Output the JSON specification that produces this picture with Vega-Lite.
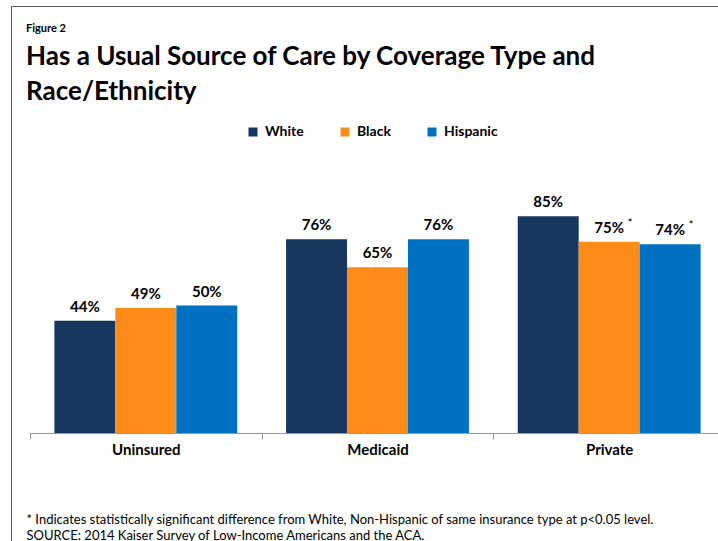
{
  "$schema": "https://vega.github.io/schema/vega-lite/v6.json",
  "autosize": {"type": "none"},
  "padding": {"left": 11, "top": 6, "right": -10, "bottom": -10},
  "width": 717,
  "height": 545,
  "background": "white",
  "title": {
    "text": "Figure 2",
    "subtitle": ["Has a Usual Source of Care by Coverage Type and", "Race/Ethnicity"],
    "anchor": "start",
    "frame": "group",
    "orient": "top",
    "font": "Lato",
    "fontSize": 11,
    "fontWeight": "bold",
    "color": "black",
    "subtitleFont": "Lato",
    "subtitleFontSize": 26,
    "subtitleFontWeight": "bold",
    "subtitleColor": "black",
    "subtitleLineHeight": 35,
    "subtitlePadding": 10,
    "dx": 15,
    "dy": 99,
    "offset": 0
  },
  "config": {"view": {"stroke": "#595959", "strokeWidth": 1}, "font": "Lato"},
  "data": {
    "values": [
      {"coverage": "Uninsured", "race": "White", "value": 44, "label": "44%", "sig": ""},
      {"coverage": "Uninsured", "race": "Black", "value": 49, "label": "49%", "sig": ""},
      {"coverage": "Uninsured", "race": "Hispanic", "value": 50, "label": "50%", "sig": ""},
      {"coverage": "Medicaid", "race": "White", "value": 76, "label": "76%", "sig": ""},
      {"coverage": "Medicaid", "race": "Black", "value": 65, "label": "65%", "sig": ""},
      {"coverage": "Medicaid", "race": "Hispanic", "value": 76, "label": "76%", "sig": ""},
      {"coverage": "Private", "race": "White", "value": 85, "label": "85%", "sig": ""},
      {"coverage": "Private", "race": "Black", "value": 75, "label": "75%", "sig": "*"},
      {"coverage": "Private", "race": "Hispanic", "value": 74, "label": "74%", "sig": "*"}
    ]
  },
  "encoding": {
    "x": {
      "field": "coverage",
      "type": "nominal",
      "sort": ["Uninsured", "Medicaid", "Private"],
      "scale": {"range": [19, 714], "paddingInner": 0, "paddingOuter": 0},
      "axis": {
        "title": ["* Indicates statistically significant difference from White, Non-Hispanic of same insurance type at p<0.05 level.", "SOURCE: 2014 Kaiser Survey of Low-Income Americans and the ACA."],
        "titleX": 15,
        "titleY": 90,
        "titleAlign": "left",
        "titleBaseline": "alphabetic",
        "titleFont": "Lato",
        "titleFontSize": 13,
        "titleFontWeight": "normal",
        "titleColor": "black",
        "titleLineHeight": 16,
        "offset": -118,
        "labelAngle": 0,
        "labelFont": "Lato",
        "labelFontSize": 15,
        "labelFontWeight": "bold",
        "labelColor": "black",
        "labelPadding": 3,
        "tickBand": "extent",
        "tickSize": 6,
        "tickColor": "#999999",
        "domainColor": "#999999",
        "grid": false
      }
    },
    "xOffset": {
      "field": "race",
      "type": "nominal",
      "sort": ["White", "Black", "Hispanic"],
      "scale": {"paddingInner": 0, "paddingOuter": 0.4}
    },
    "y": {
      "field": "value",
      "type": "quantitative",
      "scale": {"domain": [0, 100], "range": [427, 172]},
      "axis": null
    }
  },
  "layer": [
    {
      "mark": {"type": "bar"},
      "encoding": {
        "color": {
          "field": "race",
          "type": "nominal",
          "scale": {"domain": ["White", "Black", "Hispanic"], "range": ["#17375E", "#FF8C1A", "#0070C0"]},
          "legend": {
            "title": null,
            "orient": "none",
            "direction": "horizontal",
            "legendX": 235,
            "legendY": 119,
            "symbolType": "square",
            "symbolSize": 81,
            "symbolStrokeWidth": 0,
            "labelFont": "Lato",
            "labelFontSize": 14,
            "labelFontWeight": "bold",
            "labelColor": "black",
            "labelOffset": 5,
            "columnPadding": 34,
            "padding": 0
          }
        }
      }
    },
    {
      "mark": {"type": "text", "baseline": "alphabetic", "dy": -9, "fontSize": 15, "fontWeight": "bold", "font": "Lato", "color": "black"},
      "encoding": {"text": {"field": "label"}}
    },
    {
      "mark": {"type": "text", "baseline": "alphabetic", "dx": 21, "dy": -15, "fontSize": 12, "font": "Lato", "color": "black"},
      "encoding": {"text": {"field": "sig"}}
    }
  ]
}
